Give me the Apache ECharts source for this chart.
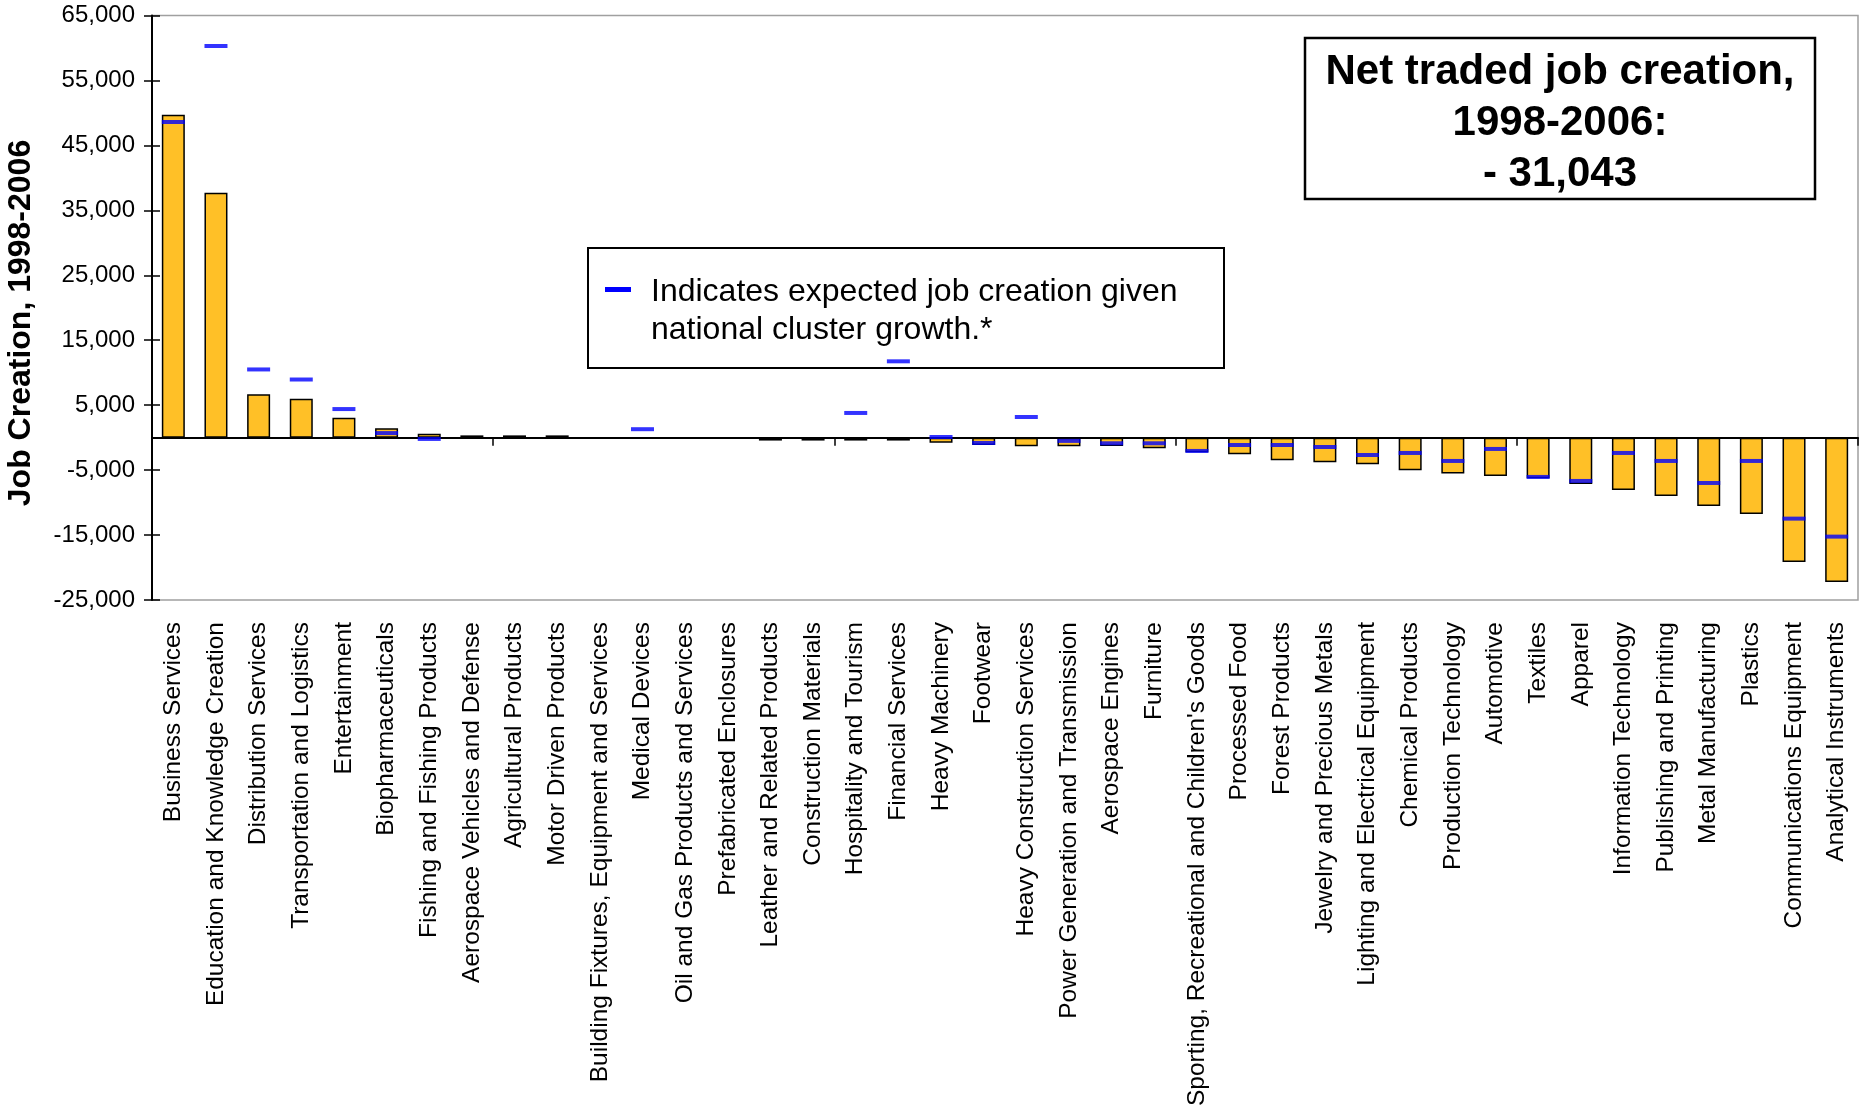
<!DOCTYPE html>
<html><head><meta charset="utf-8">
<script src="https://cdn.jsdelivr.net/npm/echarts@6.0.0/dist/echarts.min.js"></script>
<style>html,body{margin:0;padding:0;background:#fff}#c{width:1860px;height:1107px}</style>
</head><body><div id="c"></div>
<script>
const categories = [
  "Business Services","Education and Knowledge Creation","Distribution Services","Transportation and Logistics",
  "Entertainment","Biopharmaceuticals","Fishing and Fishing Products","Aerospace Vehicles and Defense",
  "Agricultural Products","Motor Driven Products","Building Fixtures, Equipment and Services","Medical Devices",
  "Oil and Gas Products and Services","Prefabricated Enclosures","Leather and Related Products","Construction Materials",
  "Hospitality and Tourism","Financial Services","Heavy Machinery","Footwear",
  "Heavy Construction Services","Power Generation and Transmission","Aerospace Engines","Furniture",
  "Sporting, Recreational and Children's Goods","Processed Food","Forest Products","Jewelry and Precious Metals",
  "Lighting and Electrical Equipment","Chemical Products","Production Technology","Automotive",
  "Textiles","Apparel","Information Technology","Publishing and Printing",
  "Metal Manufacturing","Plastics","Communications Equipment","Analytical Instruments"
];
const actualJobs = [
  49700, 37700, 6700, 6000,
  3050, 1450, 600, 350,
  350, 350, 0, 0,
  0, 0, -450, -450,
  -450, -450, -770, -1130,
  -1330, -1330, -1280, -1640,
  -2260, -2570, -3490, -3800,
  -4100, -5030, -5540, -5900,
  -6260, -7130, -8060, -8980,
  -10520, -11750, -19140, -22220
];
const expectedJobs = [
  48600, 60300, 10500, 8950,
  4400, 700, -200, null,
  null, null, null, 1300,
  null, null, null, null,
  3800, 11750, 100, -820,
  3180, -500, -870, -870,
  -2050, -1130, -1130, -1440,
  -2670, -2360, -3590, -1740,
  -6050, -6670, -2360, -3590,
  -6980, -3590, -12470, -15240
];
const yMin = -25000, yMax = 65000, yStep = 10000;
const axisTitle = "Job Creation, 1998-2006";
const titleLines = ["Net traded job creation,", "1998-2006:", "- 31,043"];
const legendLines = ["Indicates expected job creation given", "national cluster growth.*"];

const FONT = '"Liberation Sans", Arial, sans-serif';
const chart = echarts.init(document.getElementById('c'), null, {renderer: 'canvas'});
const yAxisBase = {type: 'value', min: yMin, max: yMax, interval: yStep, position: 'left', splitLine: {show: false}};
const option = {
  animation: false,
  backgroundColor: '#fff',
  grid: {left: 152, right: 2, top: 15.5, bottom: 507, show: true, borderColor: '#a0a0a0', borderWidth: 1.5,
         containLabel: false, outerBoundsMode: 'none'},
  xAxis: [
    {type: 'category', data: categories, position: 'bottom',
     axisLine: {show: false, onZero: false}, axisTick: {show: false}, splitLine: {show: false},
     axisLabel: {interval: 0, rotate: 90, margin: 22, fontSize: 24.5, color: '#000', fontFamily: FONT, hideOverlap: false}},
    {type: 'category', data: categories, position: 'bottom',
     axisLine: {show: true, onZero: true, lineStyle: {color: '#000', width: 2}},
     axisTick: {show: true, inside: false, length: 8, lineStyle: {color: '#000', width: 1.5}},
     axisLabel: {show: false}, splitLine: {show: false}}
  ],
  yAxis: [
    Object.assign({}, yAxisBase, {
      axisLine: {show: true, lineStyle: {color: '#000', width: 2}},
      axisTick: {show: true, inside: false, length: 8, lineStyle: {color: '#000', width: 1.5}},
      axisLabel: {margin: 17, fontSize: 24, color: '#000', fontFamily: FONT,
                  formatter: v => Number(v).toLocaleString('en-US')}
    }),
    Object.assign({}, yAxisBase, {
      axisLine: {show: false},
      axisTick: {show: true, inside: true, length: 8, lineStyle: {color: '#000', width: 1.5}},
      axisLabel: {show: false}
    })
  ],
  series: [
    {name: 'Job creation', type: 'bar', xAxisIndex: 0, yAxisIndex: 0, data: actualJobs, barWidth: 23,
     itemStyle: {color: '#FFC027', borderColor: '#000', borderWidth: 1.5}},
    {name: 'Expected job creation', type: 'scatter', xAxisIndex: 0, yAxisIndex: 0, data: expectedJobs,
     symbol: 'rect', symbolSize: [23, 4], itemStyle: {color: '#0000FF'}, z: 5}
  ],
  graphic: [
    {type: 'text', x: 21, y: 323, rotation: Math.PI / 2,
     style: {text: axisTitle, font: 'bold 32px ' + FONT, fill: '#000', align: 'center', verticalAlign: 'middle'}},
    {type: 'rect', shape: {x: 1305, y: 38, width: 510, height: 161},
     style: {fill: '#fff', stroke: '#000', lineWidth: 2.5}},
    {type: 'text', x: 1560, y: 72.5, style: {text: titleLines[0], font: 'bold 42px ' + FONT, fill: '#000', align: 'center', verticalAlign: 'middle'}},
    {type: 'text', x: 1560, y: 123.5, style: {text: titleLines[1], font: 'bold 42px ' + FONT, fill: '#000', align: 'center', verticalAlign: 'middle'}},
    {type: 'text', x: 1560, y: 174.5, style: {text: titleLines[2], font: 'bold 42px ' + FONT, fill: '#000', align: 'center', verticalAlign: 'middle'}},
    {type: 'rect', shape: {x: 588, y: 248, width: 636, height: 120},
     style: {fill: 'none', stroke: '#000', lineWidth: 2}},
    {type: 'rect', shape: {x: 605, y: 287, width: 26, height: 5}, style: {fill: '#0000FF'}},
    {type: 'text', x: 651, y: 292.5, style: {text: legendLines[0], font: '32px ' + FONT, fill: '#000', align: 'left', verticalAlign: 'middle'}},
    {type: 'text', x: 651, y: 330, style: {text: legendLines[1], font: '32px ' + FONT, fill: '#000', align: 'left', verticalAlign: 'middle'}}
  ]
};
chart.setOption(option);
</script></body></html>
